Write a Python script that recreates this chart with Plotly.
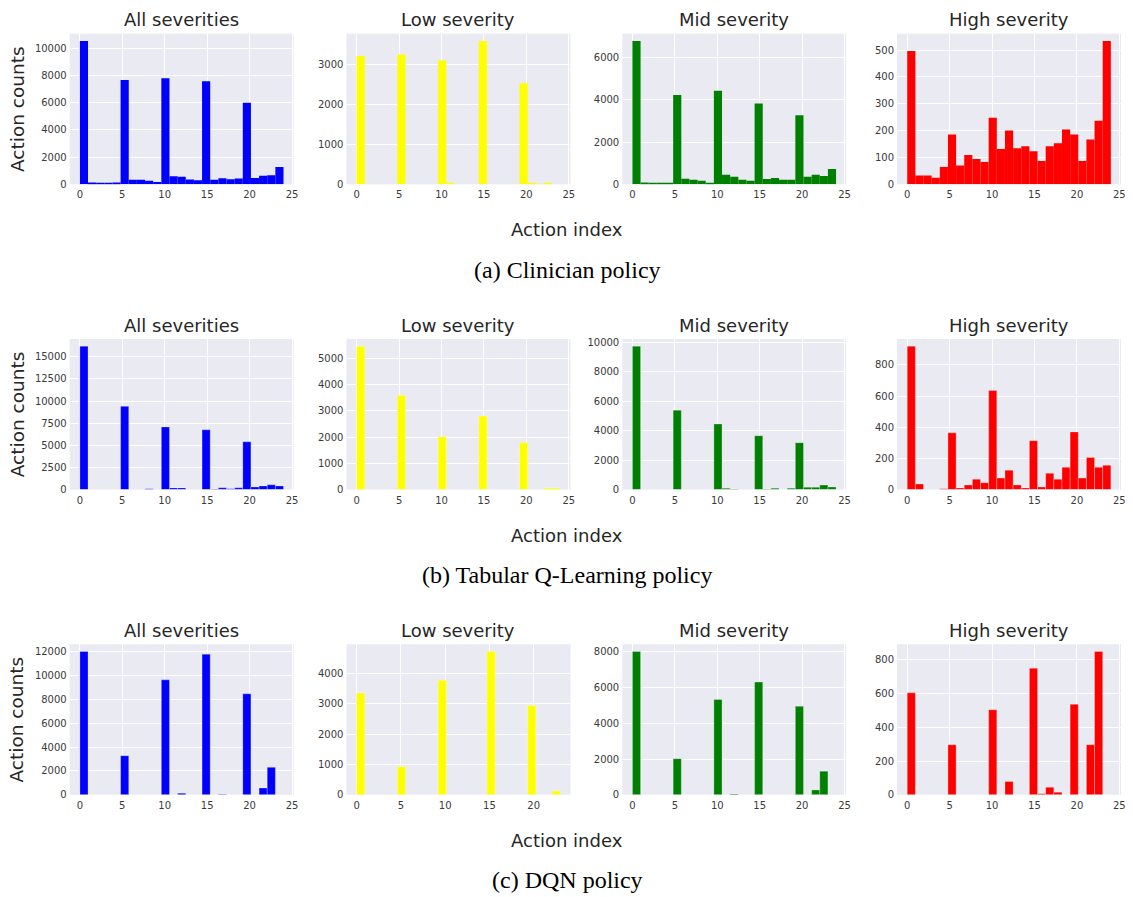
import numpy as np
import plotly.graph_objects as go

W, H = 1133, 897

# ---------------- data (histogram bin counts, 25 bins per panel) ----------------
panel_titles = ["All severities", "Low severity", "Mid severity", "High severity"]
row_captions = ["(a) Clinician policy", "(b) Tabular Q-Learning policy", "(c) DQN policy"]
colors = ["#0000FF", "#FFFF00", "#008000", "#FF0000"]

clin_all = [10530, 130, 75, 100, 135, 7650, 340, 330, 265, 165, 7790, 600, 560, 355, 310,
            7560, 340, 450, 375, 425, 5990, 470, 630, 660, 1270]
clin_low = [3210, 0, 0, 0, 0, 3250, 0, 0, 0, 0, 3100, 20, 0, 0, 0,
            3590, 0, 0, 0, 0, 2530, 20, 15, 20, 0]
clin_mid = [6800, 90, 40, 70, 70, 4230, 265, 220, 170, 80, 4440, 450, 360, 220, 170,
            3830, 250, 300, 220, 220, 3270, 360, 450, 400, 730]
clin_high = [496, 33, 33, 25, 65, 186, 70, 109, 94, 83, 248, 132, 200, 134, 142,
             123, 87, 142, 153, 204, 186, 87, 167, 237, 534]

tab_all = [16200, 0, 0, 0, 0, 9400, 0, 0, 100, 0, 7080, 190, 190, 0, 0,
           6760, 80, 200, 100, 200, 5400, 300, 420, 540, 420]
tab_low = [5460, 0, 0, 0, 0, 3590, 0, 0, 0, 0, 2010, 0, 0, 0, 0,
           2800, 0, 0, 0, 0, 1790, 0, 0, 65, 65]
tab_mid = [9750, 0, 0, 0, 0, 5400, 0, 0, 0, 0, 4460, 90, 45, 0, 0,
           3660, 45, 100, 0, 100, 3190, 160, 160, 310, 180]
tab_high = [920, 36, 0, 0, 5, 364, 11, 30, 67, 44, 636, 74, 124, 30, 11,
            314, 17, 105, 67, 143, 370, 74, 206, 143, 156]

dqn_all = [12000, 0, 0, 0, 0, 3280, 0, 0, 0, 0, 9620, 0, 140, 0, 0,
           11770, 6, 45, 16, 0, 8450, 0, 575, 2300, 0]
dqn_low = [3360, 0, 0, 0, 0, 930, 0, 0, 0, 0, 3780, 0, 0, 0, 0,
           0, 4730, 0, 0, 0, 0, 2950, 0, 0, 130]
dqn_mid = [8000, 0, 0, 0, 0, 2020, 0, 0, 0, 0, 5320, 0, 55, 0, 0,
           6290, 0, 0, 0, 0, 4940, 0, 275, 1320, 0]
dqn_high = [605, 0, 0, 0, 0, 297, 0, 0, 0, 0, 505, 0, 80, 0, 0,
            751, 6, 45, 16, 0, 537, 0, 297, 851, 0]

counts = [
    [clin_all, clin_low, clin_mid, clin_high],
    [tab_all, tab_low, tab_mid, tab_high],
    [dqn_all, dqn_low, dqn_mid, dqn_high],
]
# histogram value range (min action, max action) per panel
bin_ranges = [
    [(0, 24), (0, 24), (0, 24), (0, 24)],
    [(0, 24), (0, 24), (0, 24), (0, 24)],
    [(0, 24), (0, 23), (0, 24), (0, 24)],
]
y_dticks = [
    [2000, 1000, 2000, 100],
    [2500, 1000, 2000, 200],
    [2000, 1000, 2000, 200],
]
x_ticks = [0, 5, 10, 15, 20, 25]

# ---------------- layout geometry (pixels) ----------------
lefts = [70, 348, 625, 901]
pw = 225
row_tops = [32, 340, 648]
ph = 152

fig = go.Figure()
layout = dict(
    width=W, height=H,
    margin=dict(l=0, r=0, t=0, b=0),
    paper_bgcolor="white",
    plot_bgcolor="#EAEAF2",
    showlegend=False,
    font=dict(family="DejaVu Sans", color="#262626"),
    annotations=[],
)

tick_font = dict(size=10, color="#3a3a3a", family="DejaVu Sans")

for r in range(3):
    for c in range(4):
        k = r * 4 + c + 1
        xa = "x" if k == 1 else f"x{k}"
        ya = "y" if k == 1 else f"y{k}"
        lo, hi = bin_ranges[r][c]
        edges = np.linspace(lo, hi, 26)
        centers = (edges[:-1] + edges[1:]) / 2
        width = edges[1] - edges[0]
        vals = counts[r][c]
        line = dict(width=0) if r == 0 else dict(width=0.8, color="rgba(255,255,255,0.35)")
        fig.add_trace(go.Bar(
            x=centers, y=vals, width=width, xaxis=xa, yaxis=ya,
            marker=dict(color=colors[c], line=line),
            hoverinfo="x+y",
        ))
        span = hi - lo
        x0 = lefts[c]
        top = row_tops[r]
        layout["xaxis" if k == 1 else f"xaxis{k}"] = dict(
            domain=[x0 / W, (x0 + pw) / W],
            anchor=ya,
            range=[lo - 0.05 * span, hi + 0.05 * span],
            tickmode="array", tickvals=x_ticks, ticktext=[str(t) for t in x_ticks],
            showgrid=True, gridcolor="white", gridwidth=1.2,
            zeroline=False, showline=False, ticks="",
            ticklabelstandoff=3,
            tickfont=tick_font,
            fixedrange=True,
        )
        layout["yaxis" if k == 1 else f"yaxis{k}"] = dict(
            domain=[1 - (top + ph) / H, 1 - top / H],
            anchor=xa,
            range=[0, max(vals) * 1.05],
            tick0=0, dtick=y_dticks[r][c], tickformat="d",
            showgrid=True, gridcolor="white", gridwidth=1.2,
            zeroline=False, showline=False, ticks="",
            ticklabelstandoff=2,
            tickfont=tick_font,
            fixedrange=True,
        )
        # panel title
        layout["annotations"].append(dict(
            text=panel_titles[c], xref="paper", yref="paper",
            x=(x0 + pw / 2) / W, y=1 - (top - 14) / H,
            xanchor="center", yanchor="middle", showarrow=False,
            font=dict(size=18, color="#262626", family="DejaVu Sans"),
        ))
    top = row_tops[r]
    # y label
    layout["annotations"].append(dict(
        text="Action counts", xref="paper", yref="paper",
        x=17 / W, y=1 - (top + ph / 2) / H, textangle=-90,
        xanchor="center", yanchor="middle", showarrow=False,
        font=dict(size=18.5, color="#262626", family="DejaVu Sans"),
    ))
    # x label
    layout["annotations"].append(dict(
        text="Action index", xref="paper", yref="paper",
        x=570 / W, y=1 - (top + ph + 46) / H,
        xanchor="center", yanchor="middle", showarrow=False,
        font=dict(size=18, color="#262626", family="DejaVu Sans"),
    ))
    # caption
    layout["annotations"].append(dict(
        text=row_captions[r], xref="paper", yref="paper",
        x=570 / W, y=1 - (top + ph + 86) / H,
        xanchor="center", yanchor="middle", showarrow=False,
        font=dict(size=24, color="black", family="Liberation Serif"),
    ))

fig.update_layout(**layout)
fig.write_html("out.html", config={"displayModeBar": False},
               post_script="document.body.style.margin='0';")
